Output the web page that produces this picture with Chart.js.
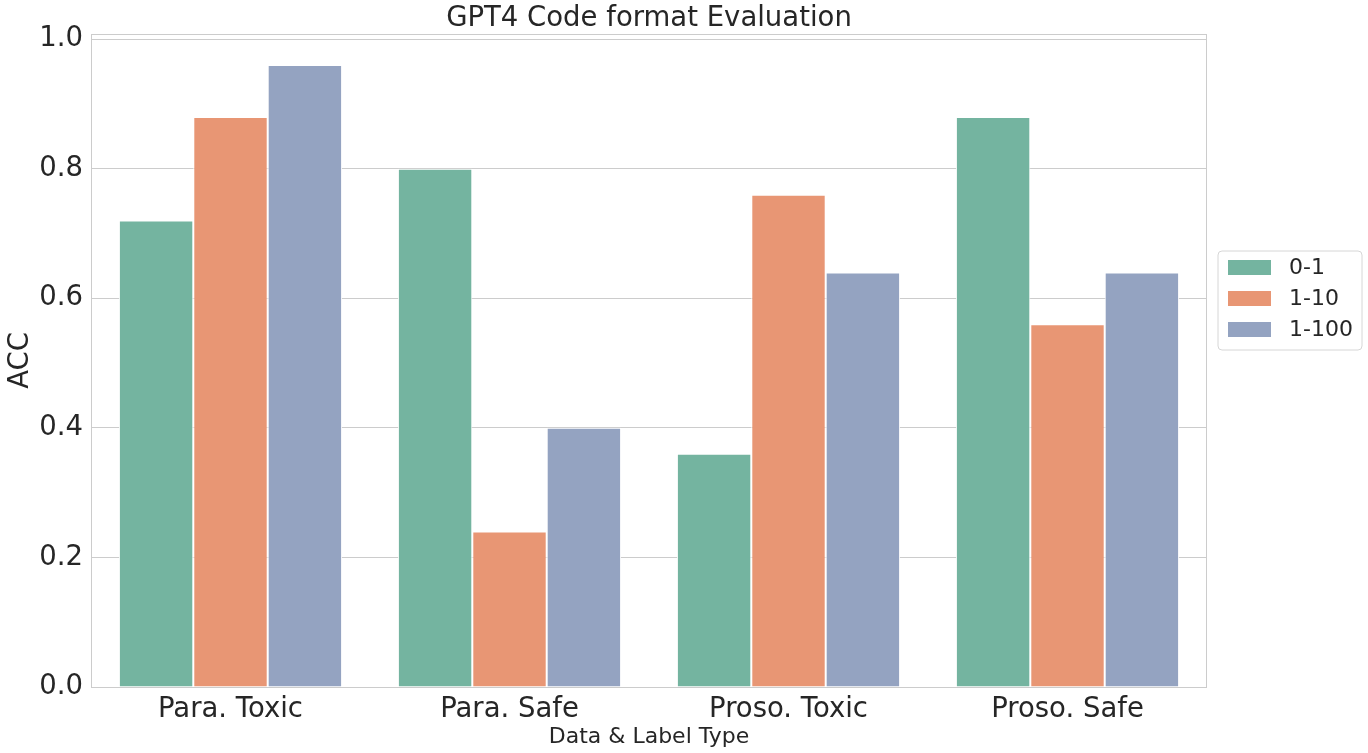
<!DOCTYPE html>
<html>
<head>
<meta charset="utf-8">
<script src="https://cdn.jsdelivr.net/npm/chart.js@4/dist/chart.umd.min.js"></script>
<style>
  html, body { margin: 0; padding: 0; background: #fff; }
  #wrap { width: 1368px; height: 753px; }
</style>
</head>
<body>
<div id="wrap"><canvas id="myChart" width="1368" height="753"></canvas></div>
<script>
const categories = ["Para. Toxic", "Para. Safe", "Proso. Toxic", "Proso. Safe"];
const seriesNames = ["0-1", "1-10", "1-100"];
const acc01 = [0.72, 0.80, 0.36, 0.88];
const acc10 = [0.88, 0.24, 0.76, 0.56];
const acc100 = [0.96, 0.40, 0.64, 0.64];
const yTicks = [0.0, 0.2, 0.4, 0.6, 0.8, 1.0];

const colors = ["#74b4a0", "#e89674", "#94a3c1"];
const ink = "#262626";
const font = "DejaVu Sans";

// title, frame and boxed legend, drawn the way matplotlib does it
const decor = {
    id: "decor",
    afterDraw(chart) {
        const ctx = chart.ctx;
        const a = chart.chartArea;
        ctx.save();
        ctx.strokeStyle = "#cccccc";
        ctx.lineWidth = 1;
        ctx.strokeRect(a.left + 0.5, a.top + 0.5, a.right - a.left - 1, a.bottom - a.top);

        ctx.fillStyle = ink;
        ctx.font = "27.5px '" + font + "'";
        ctx.textAlign = "center";
        ctx.textBaseline = "middle";
        ctx.fillText("GPT4 Code format Evaluation", (a.left + a.right) / 2, 19);

        // legend box
        const bx = 1218, by = 251, bw = 144, bh = 99, r = 4;
        ctx.beginPath();
        ctx.moveTo(bx + r, by);
        ctx.arcTo(bx + bw, by, bx + bw, by + bh, r);
        ctx.arcTo(bx + bw, by + bh, bx, by + bh, r);
        ctx.arcTo(bx, by + bh, bx, by, r);
        ctx.arcTo(bx, by, bx + bw, by, r);
        ctx.closePath();
        ctx.fillStyle = "#ffffff";
        ctx.fill();
        ctx.strokeStyle = "#d6d6d6";
        ctx.stroke();

        ctx.font = "22px '" + font + "'";
        ctx.textAlign = "left";
        chart.data.datasets.forEach((ds, i) => {
            const y = 260 + i * 31;
            ctx.fillStyle = ds.backgroundColor;
            ctx.fillRect(1228, y, 43, 15);
            ctx.fillStyle = ink;
            ctx.fillText(ds.label, 1289, y + 8);
        });
        ctx.restore();
    }
};

const ctx = document.getElementById("myChart").getContext("2d");
new Chart(ctx, {
    type: "bar",
    data: {
        labels: categories,
        datasets: [acc01, acc10, acc100].map((vals, i) => ({
            label: seriesNames[i],
            data: vals,
            backgroundColor: colors[i],
            borderColor: "#ffffff",
            borderWidth: 1,
            categoryPercentage: 0.8,
            barPercentage: 1.0,
        }))
    },
    options: {
        responsive: false,
        animation: false,
        layout: { padding: { top: 34, right: 161, bottom: 0, left: 0 } },
        plugins: {
            legend: { display: false },
            title: { display: false },
            tooltip: { enabled: false },
        },
        scales: {
            x: {
                grid: { display: false, drawTicks: false },
                border: { display: false },
                ticks: { color: ink, font: { family: font, size: 27.5 }, padding: 6 },
                title: {
                    display: true,
                    text: "Data & Label Type",
                    color: ink,
                    font: { family: font, size: 22 },
                    padding: { top: 0, bottom: 3 },
                },
                afterFit(scale) { scale.height = 66; },
            },
            y: {
                min: 0,
                max: 1.008,
                grid: { color: "#cccccc", drawTicks: false },
                border: { display: false },
                ticks: {
                    stepSize: 0.2,
                    includeBounds: false,
                    color: ink,
                    font: { family: font, size: 27.5 },
                    padding: 8,
                    callback: (v) => yTicks.includes(Math.round(v * 10) / 10) ? v.toFixed(1) : "",
                },
                title: {
                    display: true,
                    text: "ACC",
                    color: ink,
                    font: { family: font, size: 27.5 },
                    padding: { top: 4, bottom: 0 },
                },
                afterFit(scale) { scale.width = 91; },
            }
        }
    },
    plugins: [decor],
});
</script>
</body>
</html>
